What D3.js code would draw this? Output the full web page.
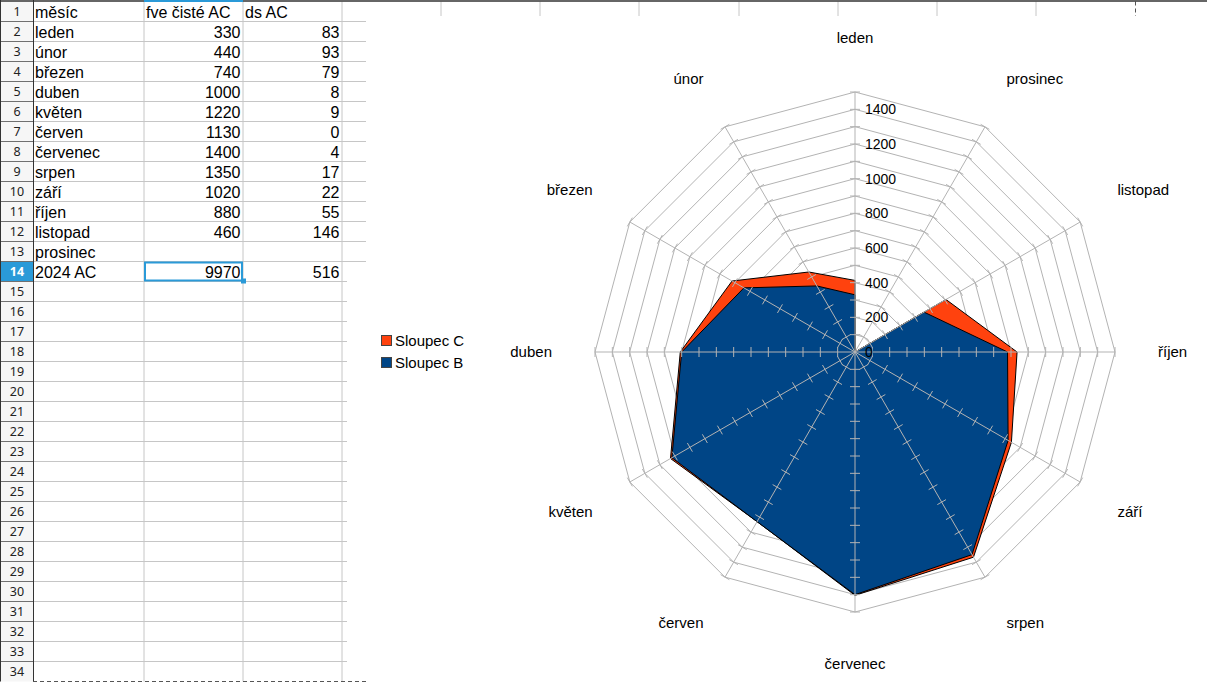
<!DOCTYPE html>
<html>
<head>
<meta charset="utf-8">
<script src="https://cdn.jsdelivr.net/npm/d3@7"></script>
<style>
  body { margin: 0; background: #fff; }
  text { font-family: "Liberation Sans", Arial, sans-serif; }
</style>
</head>
<body>
<div class="container"></div>
<script>
// data from the sheet
const headers = ["měsíc", "fve čisté AC", "ds AC"];
const months = ["leden", "únor", "březen", "duben", "květen", "červen",
  "červenec", "srpen", "září", "říjen", "listopad", "prosinec"];
const fve = [330, 440, 740, 1000, 1220, 1130, 1400, 1350, 1020, 880, 460, null];
const ds = [83, 93, 79, 8, 9, 0, 4, 17, 22, 55, 146, null];
const totalLabel = "2024 AC";
const totals = [9970, 516];
const radialTicks = [0, 200, 400, 600, 800, 1000, 1200, 1400];
const seriesNames = ["Sloupec C", "Sloupec B"];

const width = 1207;
const height = 682;

const svg = d3.select(".container")
    .append("svg")
    .attr("width", width)
    .attr("height", height);

// ---------- spreadsheet ----------
const rowH = 20;
const sheetTop = 1.5;
const cols = [33, 144, 243, 342];
const rowCount = 34;
const rowY = n => sheetTop + rowH * n; // bottom edge of row n

const sheet = svg.append("g");

// row header background
sheet.append("rect")
    .attr("x", 0).attr("y", sheetTop)
    .attr("width", 33).attr("height", rowY(rowCount) - sheetTop)
    .attr("fill", "#f6f6f6");
sheet.append("rect")
    .attr("x", 0).attr("y", rowY(13))
    .attr("width", 33).attr("height", rowH)
    .attr("fill", "#2a9ad8");

// horizontal cell lines
d3.range(1, rowCount).forEach(n => {
  sheet.append("line")
      .attr("x1", 33).attr("x2", rowY(n) <= 262 ? 366 : 347)
      .attr("y1", rowY(n)).attr("y2", rowY(n))
      .attr("stroke", "#c6c6c6");
  sheet.append("line")
      .attr("x1", 0).attr("x2", 33)
      .attr("y1", rowY(n)).attr("y2", rowY(n))
      .attr("stroke", "#707070");
});

// vertical cell lines
cols.slice(1).forEach(x => {
  sheet.append("line")
      .attr("x1", x).attr("x2", x)
      .attr("y1", sheetTop).attr("y2", rowY(rowCount))
      .attr("stroke", "#c6c6c6");
});
[441, 540, 639, 739, 838, 937, 1036].forEach(x => {
  sheet.append("line")
      .attr("x1", x).attr("x2", x)
      .attr("y1", sheetTop).attr("y2", 16)
      .attr("stroke", "#c6c6c6");
});
sheet.append("line")
    .attr("x1", 1135.5).attr("x2", 1135.5)
    .attr("y1", sheetTop).attr("y2", 16)
    .attr("stroke", "#555").attr("stroke-dasharray", "4,3");

// header borders
sheet.append("line")
    .attr("x1", 33.5).attr("x2", 33.5)
    .attr("y1", 0).attr("y2", rowY(rowCount))
    .attr("stroke", "#333");
sheet.append("line")
    .attr("x1", 0.5).attr("x2", 0.5)
    .attr("y1", 0).attr("y2", rowY(rowCount))
    .attr("stroke", "#333");
sheet.append("line")
    .attr("x1", 0).attr("x2", width)
    .attr("y1", 1).attr("y2", 1)
    .attr("stroke", "#333").attr("stroke-width", 1.5);
sheet.append("line")
    .attr("x1", 144).attr("x2", 243)
    .attr("y1", 1).attr("y2", 1)
    .attr("stroke", "#2a9ad8").attr("stroke-width", 2);
sheet.append("line")
    .attr("x1", 33).attr("x2", 366)
    .attr("y1", 681.5).attr("y2", 681.5)
    .attr("stroke", "#555").attr("stroke-dasharray", "4,3");

// row numbers
d3.range(1, rowCount + 1).forEach(n => {
  sheet.append("text")
      .attr("x", 17).attr("y", rowY(n) - 5.5)
      .attr("text-anchor", "middle")
      .style("font-family", "'Noto Sans', sans-serif")
      .style("font-size", "12.5px")
      .style("font-weight", n === 14 ? "bold" : "normal")
      .attr("fill", n === 14 ? "#fff" : "#222")
      .text(n);
});

const cellText = (txt, col, row, right) => {
  sheet.append("text")
      .attr("x", right ? cols[col + 1] - 2.5 : cols[col] + 2)
      .attr("y", rowY(row) - 3.8)
      .attr("text-anchor", right ? "end" : "start")
      .style("font-size", "16px")
      .attr("fill", "#000")
      .text(txt);
};

headers.forEach((h, i) => cellText(h, i, 1, false));
months.forEach((m, i) => {
  cellText(m, 0, i + 2, false);
  if (fve[i] != null) cellText(fve[i], 1, i + 2, true);
  if (ds[i] != null) cellText(ds[i], 2, i + 2, true);
});
cellText(totalLabel, 0, 14, false);
cellText(totals[0], 1, 14, true);
cellText(totals[1], 2, 14, true);

// selected cell
sheet.append("rect")
    .attr("x", 145).attr("y", rowY(13) + 1)
    .attr("width", 97).attr("height", rowH - 2)
    .attr("fill", "none")
    .attr("stroke", "#2a9ad8").attr("stroke-width", 2);
sheet.append("rect")
    .attr("x", 241).attr("y", rowY(14) - 3)
    .attr("width", 5).attr("height", 5)
    .attr("fill", "#2a9ad8");

// ---------- radar chart ----------
const cx = 855;
const cy = 352;
const n = months.length;
const step = 2 * Math.PI / n;
const angle = i => -i * step; // counterclockwise from top

const r = d3.scaleLinear().domain([0, 1500]).range([0, 260]);
const rings = d3.range(100, 1501, 100);

const chart = svg.append("g").attr("transform", `translate(${cx},${cy})`);

const ringLine = d3.lineRadial()
    .angle((d, i) => angle(i))
    .radius(d => r(d))
    .curve(d3.curveLinearClosed);

chart.selectAll(".ring")
  .data(rings)
  .join("path")
    .attr("class", "ring")
    .attr("d", v => ringLine(months.map(() => v)))
    .attr("fill", "none")
    .attr("stroke", "#b3b3b3");

// stacked series
const base = fve.map(v => v == null ? 0 : v);
const stacked = base.map((v, i) => v + (ds[i] == null ? 0 : ds[i]));

chart.append("path")
    .attr("d", ringLine(stacked))
    .attr("fill", "#ff420e")
    .attr("stroke", "#000")
    .attr("stroke-width", 1);

chart.append("path")
    .attr("d", ringLine(base))
    .attr("fill", "#004586")
    .attr("stroke", "#000")
    .attr("stroke-width", 1);

// spokes and ticks
const pt = (i, rad) => [rad * Math.sin(angle(i)), -rad * Math.cos(angle(i))];

months.forEach((m, i) => {
  const [x2, y2] = pt(i, r(1500));
  chart.append("line")
      .attr("x1", 0).attr("y1", 0)
      .attr("x2", x2).attr("y2", y2)
      .attr("stroke", "#b3b3b3");
  const a = angle(i);
  const px = Math.cos(a), py = Math.sin(a); // perpendicular direction
  rings.forEach(v => {
    const [x, y] = pt(i, r(v));
    chart.append("line")
        .attr("x1", x - 5 * px).attr("y1", y - 5 * py)
        .attr("x2", x + 5 * px).attr("y2", y + 5 * py)
        .attr("stroke", "#b3b3b3");
  });
});

// radial axis labels
chart.selectAll(".rtick")
  .data(radialTicks)
  .join("text")
    .attr("class", "rtick")
    .attr("x", 10)
    .attr("y", d => -r(d))
    .attr("dy", "0.35em")
    .style("font-size", "14px")
    .attr("fill", "#000")
    .text(d => d);

// category labels
const labelR = 303;
months.forEach((m, i) => {
  const a = angle(i);
  const s = Math.sin(a), c = Math.cos(a);
  const [x, y] = pt(i, labelR);
  chart.append("text")
      .attr("x", x)
      .attr("y", y)
      .attr("text-anchor", s > 0.01 ? "start" : s < -0.01 ? "end" : "middle")
      .attr("dy", c > 0.01 ? "-0.4em" : c < -0.01 ? "0.9em" : "0.35em")
      .style("font-size", "15px")
      .attr("fill", "#000")
      .text(m);
});

// legend
const legendColors = ["#ff420e", "#004586"];
const legend = svg.append("g").attr("transform", "translate(381,335)");
seriesNames.forEach((s, i) => {
  legend.append("rect")
      .attr("x", 0.5).attr("y", i * 22 + 0.5)
      .attr("width", 10).attr("height", 10)
      .attr("fill", legendColors[i])
      .attr("stroke", "#444");
  legend.append("text")
      .attr("x", 14).attr("y", i * 22 + 10.5)
      .style("font-size", "15px")
      .attr("fill", "#000")
      .text(s);
});
</script>
</body>
</html>
